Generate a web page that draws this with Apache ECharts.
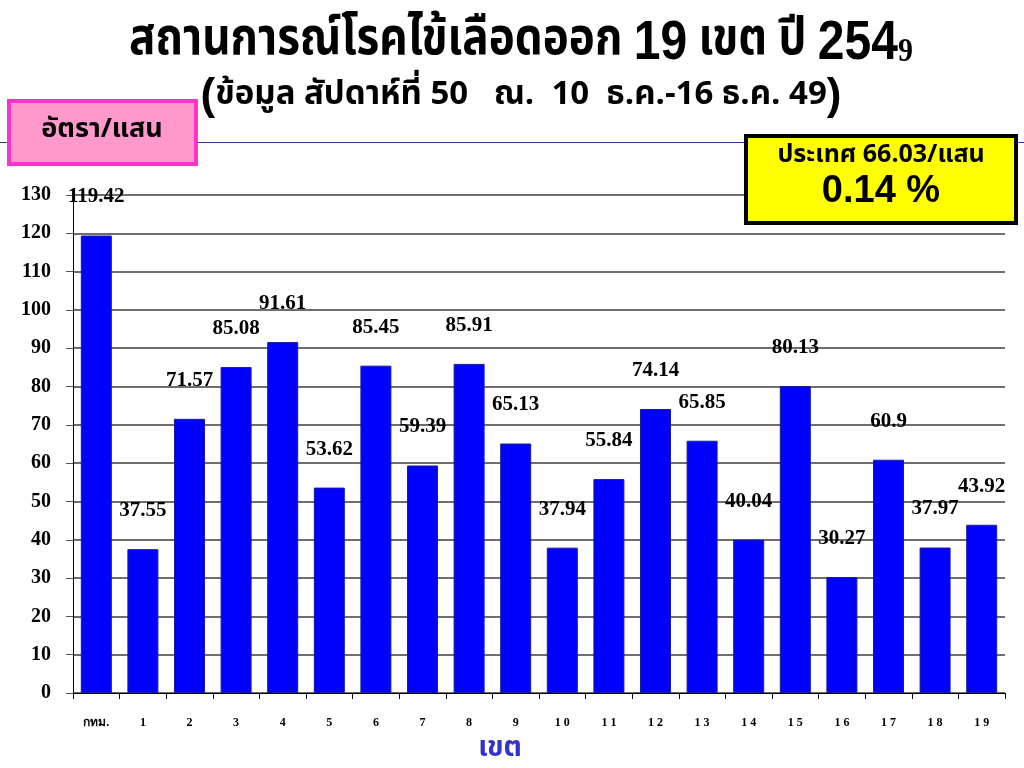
<!DOCTYPE html>
<html><head><meta charset="utf-8">
<script src="https://cdn.jsdelivr.net/npm/echarts@6/dist/echarts.min.js"></script>
<style>html,body{margin:0;padding:0;background:#fff}#c{width:1024px;height:768px}</style>
</head><body><div id="c"></div>
<script>
const categories = ['กทม.','1','2','3','4','5','6','7','8','9','10','11','12','13','14','15','16','17','18','19'];
const rates = [119.42,37.55,71.57,85.08,91.61,53.62,85.45,59.39,85.91,65.13,37.94,55.84,74.14,65.85,40.04,80.13,30.27,60.9,37.97,43.92];
const yMin = 0, yMax = 130, yStep = 10;

const thai = '"Noto Sans Thai","Noto Sans","DejaVu Sans",sans-serif';
const shadow = {textShadowColor: '#999', textShadowOffsetX: 3, textShadowOffsetY: 3, textShadowBlur: 0};
const chart = echarts.init(document.getElementById('c'));
chart.setOption({
  animation: false,
  backgroundColor: '#fff',
  grid: {left: 73, right: 19, top: 195, bottom: 75, containLabel: false, outerBoundsMode: 'none'},
  xAxis: {
    type: 'category', data: categories,
    axisLine: {lineStyle: {color: '#000', width: 1}},
    axisTick: {show: true, length: 6, lineStyle: {color: '#000'}},
    axisLabel: {color: '#000', fontFamily: 'Liberation Serif, serif', fontWeight: 'bold', fontSize: 12, margin: 24,
      formatter: v => v.length <= 2 ? v.split('').join(' ') : v}
  },
  yAxis: {
    type: 'value', min: yMin, max: yMax, interval: yStep,
    axisLine: {show: true, lineStyle: {color: '#000'}},
    axisTick: {show: true, length: 7, lineStyle: {color: '#555'}},
    axisLabel: {color: '#000', fontFamily: 'Liberation Serif, serif', fontWeight: 'bold', fontSize: 20, margin: 22},
    splitLine: {lineStyle: {color: '#6e6e6e', width: 2}}
  },
  series: [{
    type: 'bar', data: rates, barWidth: 31,
    itemStyle: {color: '#0000ff', borderColor: '#1a1aa0', borderWidth: 1},
    label: {show: true, position: 'top', distance: 28, color: '#000', fontFamily: 'Liberation Serif, serif', fontWeight: 'bold', fontSize: 21}
  }],
  graphic: [
    {type: 'line', shape: {x1: 0, y1: 142.5, x2: 1024, y2: 142.5}, style: {stroke: '#333399', lineWidth: 1}, z: 1},
    {type: 'text', x: 521, y: 44, scaleY: 1.15, z: 10, style: {
      text: '{t|สถานการณ์โรคไข้เลือดออก }{n|19}{t| เขต ปี }{n|254}{s|9}',
      align: 'center', verticalAlign: 'middle',
      rich: {
        t: Object.assign({fontFamily: thai, fontWeight: 'bold', fontSize: 44, fill: '#000'}, shadow),
        n: Object.assign({fontFamily: 'Liberation Sans, Arial, sans-serif', fontWeight: 'bold', fontSize: 48, fill: '#000'}, shadow),
        s: Object.assign({fontFamily: 'Liberation Serif, serif', fontWeight: 'bold', fontSize: 30, fill: '#000', padding: [14, 0, 0, 0]}, shadow)
      }}},
    {type: 'text', x: 521, y: 97, z: 10, style: {
      text: '{p|(}{t|ข้อมูล สัปดาห์ที่ 50   ณ.  10  ธ.ค.-16 ธ.ค. 49}{p|)}',
      align: 'center', verticalAlign: 'middle',
      rich: {
        p: {fontFamily: 'Liberation Sans, Arial, sans-serif', fontWeight: 'bold', fontSize: 44, fill: '#000'},
        t: {fontFamily: thai + ',"Liberation Serif"', fontWeight: 'bold', fontSize: 33, fill: '#000'}
      }}},
    {type: 'rect', shape: {x: 9, y: 101, width: 187, height: 63}, style: {fill: '#ff99cc', stroke: '#ff33cc', lineWidth: 4}, z: 5},
    {type: 'text', x: 102, y: 132, z: 6, style: {text: 'อัตรา/แสน', fontFamily: thai, fontWeight: 'bold', fontSize: 27, fill: '#000', align: 'center', verticalAlign: 'middle'}},
    {type: 'rect', shape: {x: 746, y: 136, width: 270, height: 87}, style: {fill: '#ffff00', stroke: '#000', lineWidth: 4}, z: 5},
    {type: 'text', x: 881, y: 157, z: 6, style: {text: 'ประเทศ 66.03/แสน', fontFamily: thai, fontWeight: 'bold', fontSize: 25, fill: '#000', align: 'center', verticalAlign: 'middle'}},
    {type: 'text', x: 881, y: 192, z: 6, style: {text: '0.14 %', fontFamily: 'Liberation Sans, Arial, sans-serif', fontWeight: 'bold', fontSize: 38, fill: '#000', align: 'center', verticalAlign: 'middle'}},
    {type: 'text', x: 500, y: 750, z: 6, style: {text: 'เขต', fontFamily: thai, fontWeight: 'bold', fontSize: 28, fill: '#3333cc', align: 'center', verticalAlign: 'middle'}}
  ]
});
</script></body></html>
